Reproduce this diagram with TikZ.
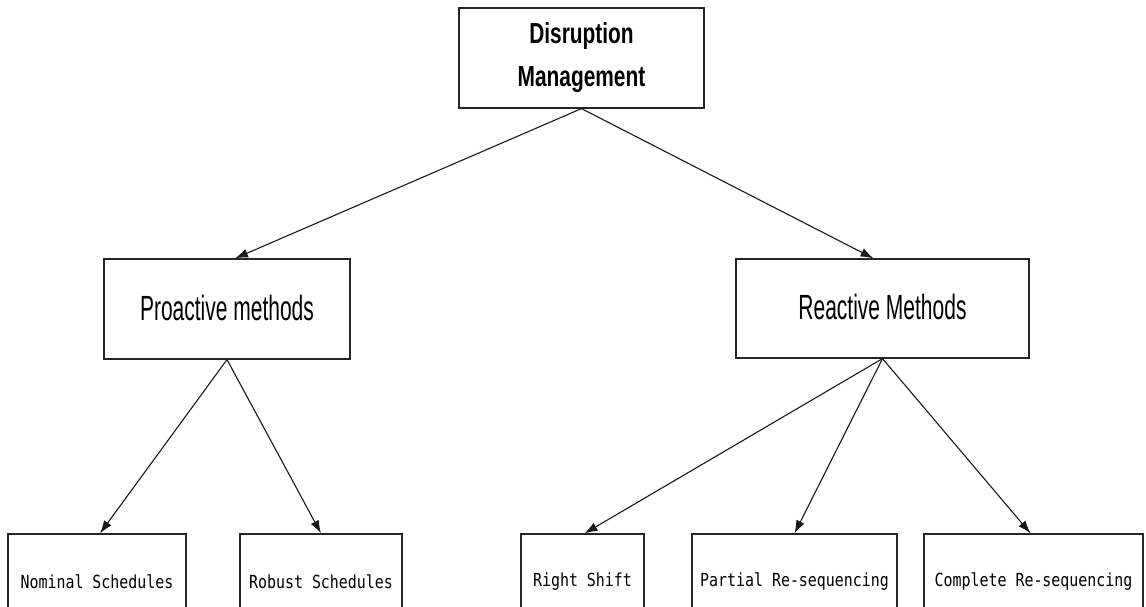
\documentclass[tikz,border=0pt]{standalone}
\usepackage{fontspec}
\usepackage{graphicx}
\usetikzlibrary{arrows.meta}
\newfontfamily\headfont{Liberation Sans}
\newfontfamily\boxmono{DejaVu Sans Mono}
\tikzset{
  box/.style={draw=black!85, line width=1.2pt, rectangle, inner sep=0pt, fill=white},
  topbox/.style={box, minimum width=245pt, minimum height=100pt, align=center,
    font=\headfont\bfseries\fontsize{29}{45}\selectfont},
  midbox/.style={box, minimum height=100pt, font=\headfont\fontsize{35}{40}\selectfont},
  leafbox/.style={box, minimum height=96pt, font=\boxmono\fontsize{18}{20}\selectfont},
  conn/.style={line width=1.1pt, black!90, -{Latex[length=13pt,width=9pt]}}
}
\newcommand{\sqz}[2]{\scalebox{#1}[1]{#2}}
\begin{document}
\begin{tikzpicture}[x=1pt,y=-1pt]
\clip (0,0) rectangle (1146,607);
\fill[white] (0,0) rectangle (1146,607);
\node[topbox] (dm) at (581.5,58) {\sqz{0.72}{Disruption}\\[-2pt]\sqz{0.72}{Management}};
\node[midbox, minimum width=246pt] (pro) at (227,309) {\raisebox{3pt}{\sqz{0.6}{Proactive methods}}};
\node[midbox, minimum width=293pt, minimum height=99pt] (rea) at (882.5,308.5) {\raisebox{3pt}{\sqz{0.6}{Reactive Methods}}};
\node[leafbox, minimum width=178pt] (nom) at (97,582) {\sqz{0.83}{Nominal Schedules}};
\node[leafbox, minimum width=162pt] (rob) at (321,582) {\sqz{0.83}{Robust Schedules}};
\node[leafbox, minimum width=123pt] (rs) at (582.5,582) {\sqz{0.83}{Right Shift}};
\node[leafbox, minimum width=205pt] (par) at (794.5,582) {\sqz{0.83}{Partial Re-sequencing}};
\node[leafbox, minimum width=219pt] (com) at (1033.5,582) {\sqz{0.83}{Complete Re-sequencing}};
\draw[conn] (dm.south) -- ([xshift=8pt]pro.north);
\draw[conn] (dm.south) -- ([xshift=-9pt]rea.north);
\draw[conn] (pro.south) -- ([xshift=3pt]nom.north);
\draw[conn] (pro.south) -- (rob.north);
\draw[conn] (rea.south) -- ([xshift=2pt]rs.north);
\draw[conn] (rea.south) -- (par.north);
\draw[conn] (rea.south) -- ([xshift=-3pt]com.north);
\end{tikzpicture}
\end{document}
